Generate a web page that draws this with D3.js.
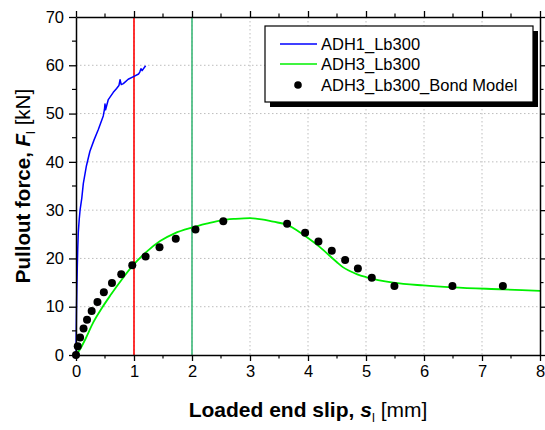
<!DOCTYPE html>
<html>
<head>
<meta charset="utf-8">
<script src="https://cdn.jsdelivr.net/npm/d3@7"></script>
<style>
  html, body { margin: 0; padding: 0; background: #fff; }
  svg { display: block; font-family: "Liberation Sans", Arial, sans-serif; }
</style>
</head>
<body>
<svg id="chart" width="545" height="430"></svg>
<script>
// ADH1_Lb300 test curve: loaded end slip [mm] vs pullout force [kN]
const adh1Slip  = [0, 0.004, 0.008, 0.015, 0.022, 0.03, 0.04, 0.055, 0.07, 0.1, 0.126, 0.18, 0.24, 0.31, 0.385, 0.47, 0.49, 0.5, 0.51, 0.557, 0.643, 0.7, 0.74, 0.76, 0.78, 0.816, 0.9, 1.0, 1.08, 1.1, 1.12, 1.14, 1.2];
const adh1Force = [0, 5, 9, 14, 18, 22, 25.5, 28, 30, 32.5, 35.5, 39.2, 42.2, 44.5, 46.7, 49.5, 50.8, 52, 50.8, 52.9, 54.4, 55.2, 55.8, 57, 56, 56.2, 57.1, 57.7, 58.2, 58.6, 59.3, 58.9, 59.9];

// ADH3_Lb300 test curve
const adh3Slip  = [0, 0.07, 0.15, 0.3, 0.45, 0.59, 0.8, 1.0, 1.2, 1.45, 1.7, 2.0, 2.25, 2.5, 2.75, 3.0, 3.2, 3.4, 3.63, 3.8, 3.92, 4.2, 4.49, 4.6, 4.72, 4.85, 5.01, 5.47, 5.99, 6.5, 7.36, 8.0];
const adh3Force = [0, 1.2, 3.0, 6.8, 9.8, 12.3, 15.8, 18.8, 21.2, 23.6, 25.2, 26.4, 27.2, 27.9, 28.2, 28.35, 28.1, 27.6, 27.0, 25.9, 24.9, 22.4, 19.3, 18.2, 17.4, 16.7, 16.1, 15.0, 14.4, 14.0, 13.6, 13.3];

// ADH3_Lb300 bond model points
const modelSlip  = [0, 0.03, 0.07, 0.13, 0.19, 0.27, 0.37, 0.48, 0.62, 0.78, 0.97, 1.2, 1.44, 1.72, 2.06, 2.54, 3.64, 3.95, 4.18, 4.41, 4.64, 4.86, 5.1, 5.49, 6.49, 7.36];
const modelForce = [0, 1.8, 3.6, 5.5, 7.3, 9.1, 11.0, 13.0, 14.9, 16.7, 18.6, 20.4, 22.3, 24.1, 26.0, 27.7, 27.2, 25.3, 23.5, 21.6, 19.7, 17.9, 16.0, 14.3, 14.3, 14.3];

// Reference slip values marked by vertical lines
const markerSlip   = [1, 2];
const markerColors = ["#ff0000", "#3cb878"];

const xTicks = [0, 1, 2, 3, 4, 5, 6, 7, 8];
const yTicks = [0, 10, 20, 30, 40, 50, 60, 70];
const xMinor = [0.5, 1.5, 2.5, 3.5, 4.5, 5.5, 6.5, 7.5];
const yMinor = [5, 15, 25, 35, 45, 55, 65];

const legendLabels = ["ADH1_Lb300", "ADH3_Lb300", "ADH3_Lb300_Bond Model"];

const margin = { top: 17, right: 5, bottom: 75, left: 76 };
const W = 545, H = 430;
const w = W - margin.left - margin.right;
const h = H - margin.top - margin.bottom;

const svg = d3.select("#chart");
const g = svg.append("g").attr("transform", `translate(${margin.left},${margin.top})`);

const x = d3.scaleLinear().domain([0, 8]).range([0, w]);
const y = d3.scaleLinear().domain([0, 70]).range([h, 0]);

// dotted grid at major ticks
g.append("g").selectAll("line").data(xTicks.slice(1, -1)).join("line")
  .attr("x1", d => x(d)).attr("x2", d => x(d)).attr("y1", 0).attr("y2", h)
  .attr("stroke", "#bdbdbd").attr("stroke-width", 1).attr("stroke-dasharray", "1.5,2.5");
g.append("g").selectAll("line").data(yTicks.slice(1, -1)).join("line")
  .attr("y1", d => y(d)).attr("y2", d => y(d)).attr("x1", 0).attr("x2", w)
  .attr("stroke", "#bdbdbd").attr("stroke-width", 1).attr("stroke-dasharray", "1.5,2.5");

// vertical marker lines
g.append("g").selectAll("line").data(markerSlip).join("line")
  .attr("x1", d => x(d)).attr("x2", d => x(d)).attr("y1", y(0)).attr("y2", y(70))
  .attr("stroke", (d, i) => markerColors[i]).attr("stroke-width", 1.6);

// curves
g.append("path").datum(d3.zip(adh3Slip, adh3Force))
  .attr("d", d3.line().x(d => x(d[0])).y(d => y(d[1])).curve(d3.curveMonotoneX))
  .attr("fill", "none").attr("stroke", "#00f000").attr("stroke-width", 1.8);
g.append("path").datum(d3.zip(adh1Slip, adh1Force))
  .attr("d", d3.line().x(d => x(d[0])).y(d => y(d[1])))
  .attr("fill", "none").attr("stroke", "#0000ff").attr("stroke-width", 1.5).attr("stroke-linejoin", "round");

// model points
g.append("g").selectAll("circle").data(d3.zip(modelSlip, modelForce)).join("circle")
  .attr("cx", d => x(d[0])).attr("cy", d => y(d[1])).attr("r", 4).attr("fill", "#000");

// axes (all four sides, ticks pointing outward)
const tickFont = "16.5px";
function styleAxis(sel) {
  sel.select(".domain").attr("stroke", "#000").attr("stroke-width", 1.5);
  sel.selectAll(".tick line").attr("stroke", "#000").attr("stroke-width", 1.3);
  sel.selectAll("text").attr("font-size", tickFont).attr("fill", "#000")
    .attr("font-family", "'Liberation Sans', Arial, sans-serif");
}
const axBottom = g.append("g").attr("transform", `translate(0,${h})`)
  .call(d3.axisBottom(x).tickValues(xTicks).tickFormat(d3.format("d")).tickSizeInner(6).tickSizeOuter(0).tickPadding(4));
styleAxis(axBottom);
const axLeft = g.append("g")
  .call(d3.axisLeft(y).tickValues(yTicks).tickFormat(d3.format("d")).tickSizeInner(7).tickSizeOuter(0).tickPadding(5));
styleAxis(axLeft);
const axTop = g.append("g")
  .call(d3.axisTop(x).tickValues(xTicks).tickFormat("").tickSizeInner(6).tickSizeOuter(0));
styleAxis(axTop);
const axRight = g.append("g").attr("transform", `translate(${w},0)`)
  .call(d3.axisRight(y).tickValues(yTicks).tickFormat("").tickSizeInner(6).tickSizeOuter(0));
styleAxis(axRight);

// minor ticks
const minor = g.append("g").attr("stroke", "#000").attr("stroke-width", 1.2);
minor.append("g").selectAll("line").data(xMinor).join("line")
  .attr("x1", d => x(d)).attr("x2", d => x(d)).attr("y1", h).attr("y2", h + 3.5);
minor.append("g").selectAll("line").data(xMinor).join("line")
  .attr("x1", d => x(d)).attr("x2", d => x(d)).attr("y1", 0).attr("y2", -3.5);
minor.append("g").selectAll("line").data(yMinor).join("line")
  .attr("y1", d => y(d)).attr("y2", d => y(d)).attr("x1", 0).attr("x2", -4);
minor.append("g").selectAll("line").data(yMinor).join("line")
  .attr("y1", d => y(d)).attr("y2", d => y(d)).attr("x1", w).attr("x2", w + 3.5);

// axis titles
const xt = svg.append("text")
  .attr("x", margin.left + w / 2).attr("y", 417)
  .attr("text-anchor", "middle").attr("font-size", "21px").attr("fill", "#000");
xt.append("tspan").attr("font-weight", "bold").text("Loaded end slip, ");
xt.append("tspan").attr("font-weight", "bold").attr("font-style", "italic").text("s");
xt.append("tspan").attr("font-size", "13px").attr("dy", 5).text("l");
xt.append("tspan").attr("dy", -5).text(" [mm]");

const yt = svg.append("text")
  .attr("transform", `translate(30,${margin.top + h / 2}) rotate(-90)`)
  .attr("text-anchor", "middle").attr("font-size", "20.5px").attr("fill", "#000");
yt.append("tspan").attr("font-weight", "bold").text("Pullout force, ");
yt.append("tspan").attr("font-weight", "bold").attr("font-style", "italic").text("F");
yt.append("tspan").attr("font-size", "13px").attr("dy", 5).text("l");
yt.append("tspan").attr("dy", -5).text(" [kN]");

// legend with drop shadow
const lg = svg.append("g").attr("transform", "translate(265,26)");
lg.append("rect").attr("x", 5).attr("y", 5).attr("width", 268).attr("height", 76).attr("fill", "#000");
lg.append("rect").attr("x", 0).attr("y", 0).attr("width", 268).attr("height", 76)
  .attr("fill", "#fff").attr("stroke", "#000").attr("stroke-width", 1.2);
const rowY = [18, 38, 59];
const legendColors = ["#0000ff", "#00f000", "#000"];
legendLabels.forEach((lab, i) => {
  if (i < 2) {
    lg.append("line").attr("x1", 15).attr("x2", 52).attr("y1", rowY[i]).attr("y2", rowY[i])
      .attr("stroke", legendColors[i]).attr("stroke-width", 1.5);
  } else {
    lg.append("circle").attr("cx", 33).attr("cy", rowY[i]).attr("r", 3.8).attr("fill", "#000");
  }
  lg.append("text").attr("x", 56).attr("y", rowY[i] + 6)
    .attr("font-size", "16.5px").attr("fill", "#000").text(lab);
});
</script>
</body>
</html>
